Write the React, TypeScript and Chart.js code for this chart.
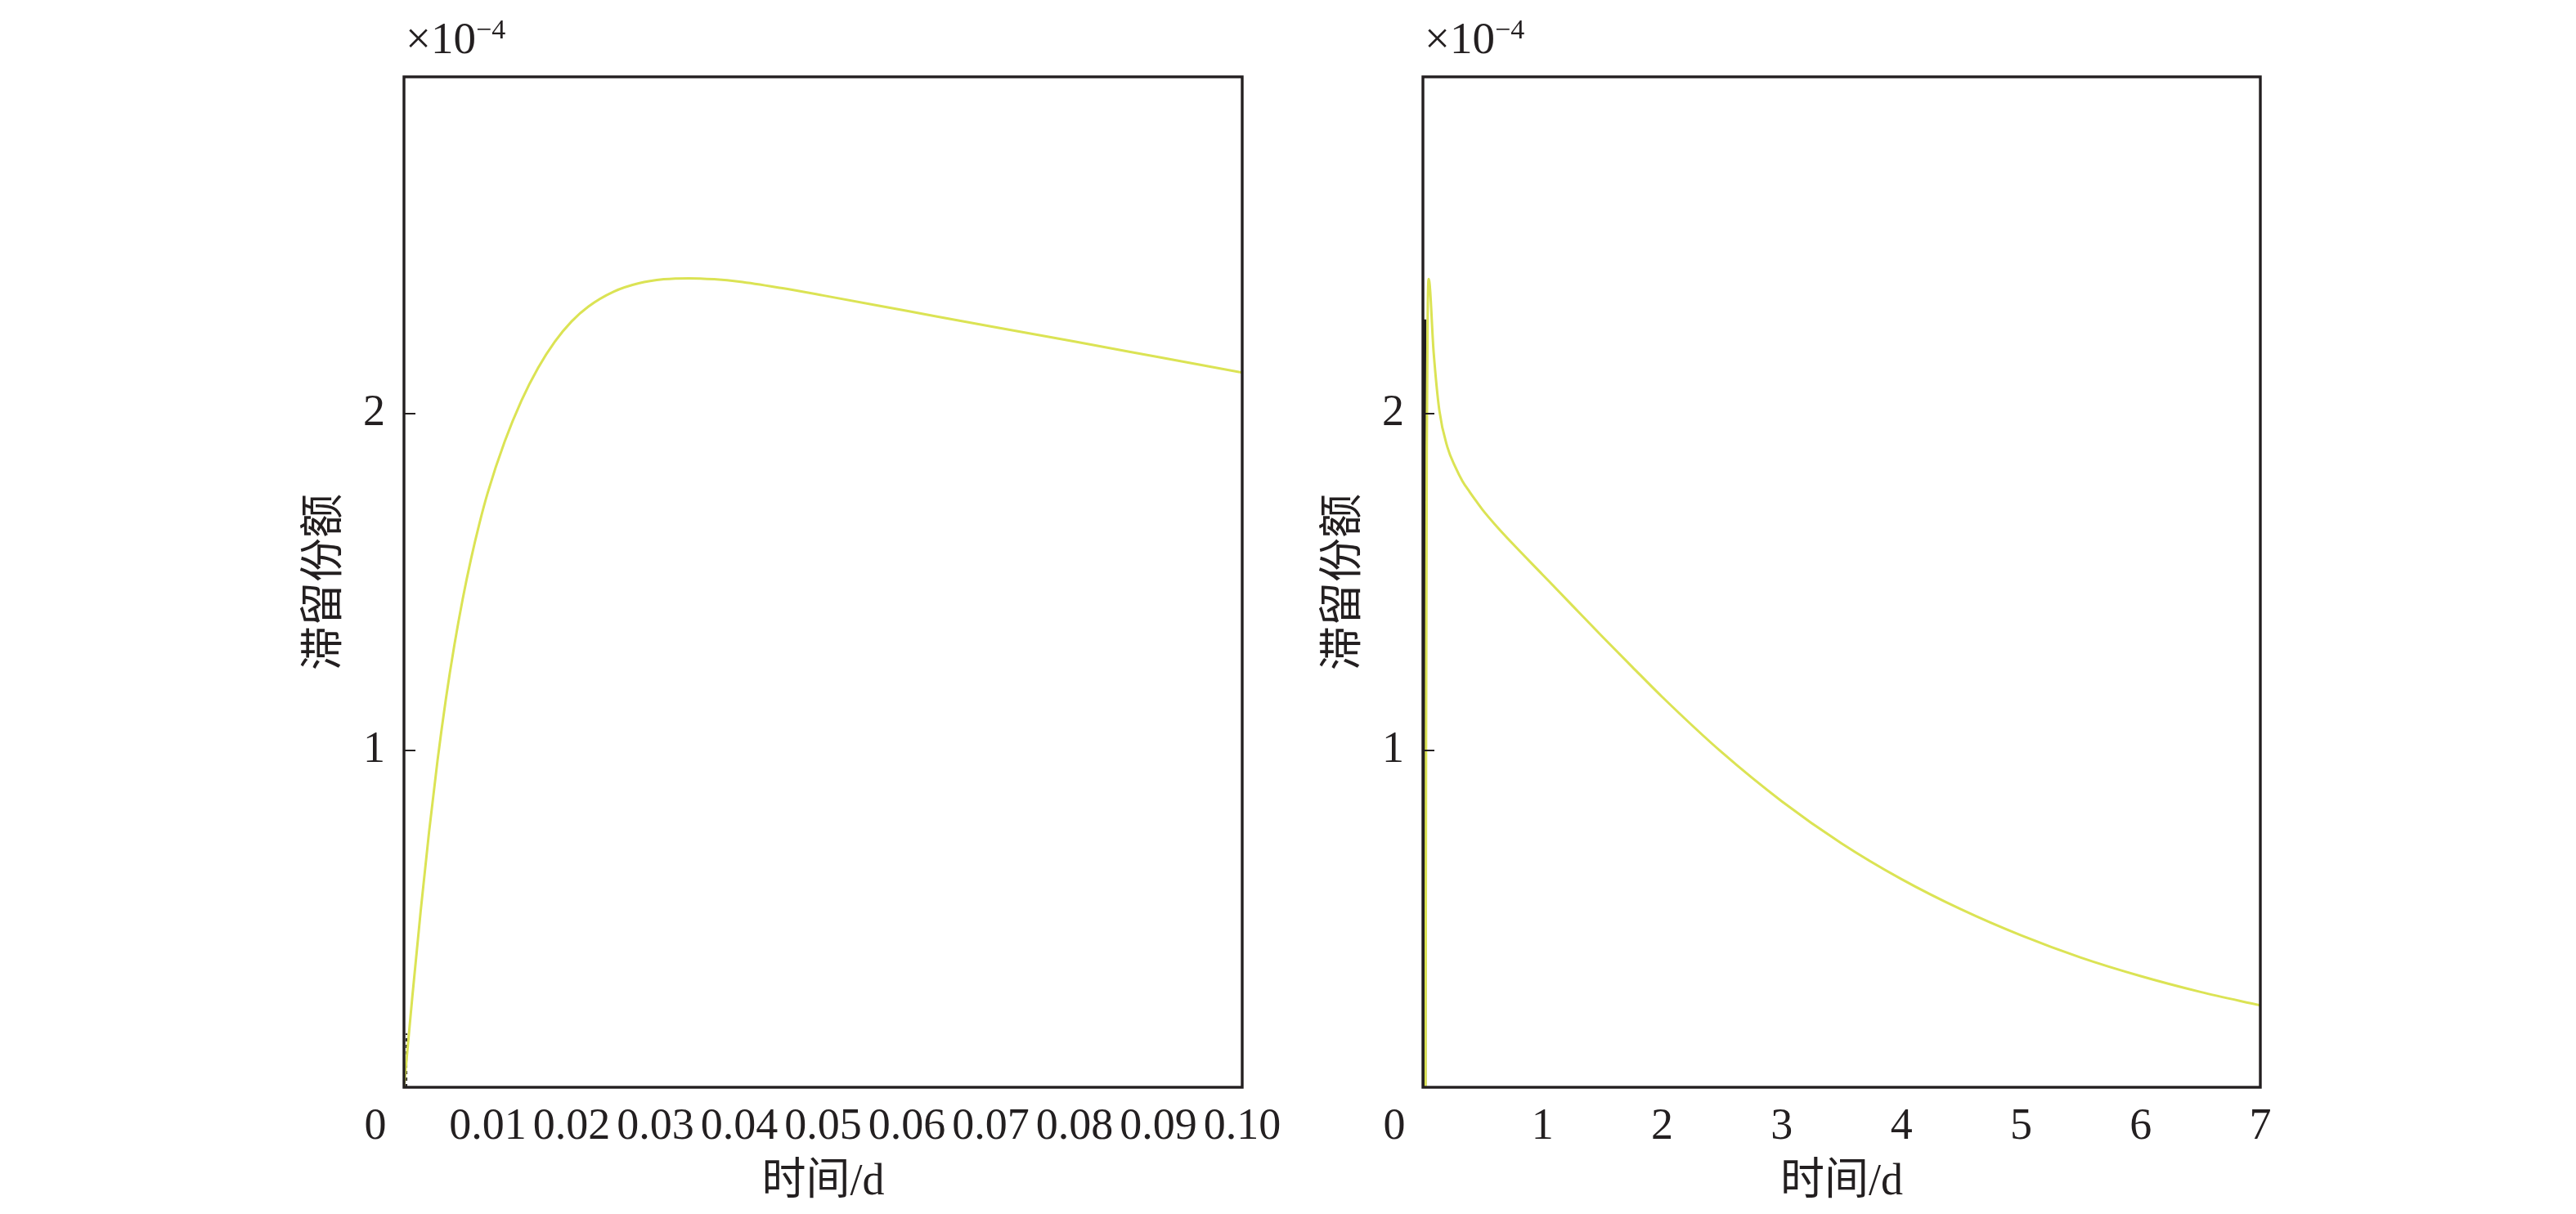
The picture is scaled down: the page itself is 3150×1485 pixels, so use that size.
import { useEffect, useRef } from "react";
import { Chart, registerables } from "chart.js";

Chart.register(...registerables);

// ---- data (time in days, retention share in units of 1e-4) ----
const leftTime = [0, 0.0003, 0.001, 0.002, 0.003, 0.004, 0.005, 0.006, 0.007, 0.008, 0.009, 0.01, 0.012, 0.014, 0.016, 0.018, 0.02, 0.022, 0.025, 0.028, 0.031, 0.034, 0.037, 0.04, 0.045, 0.05, 0.06, 0.07, 0.08, 0.09, 0.1];
const leftShare = [0, 0.08, 0.27, 0.525, 0.76, 0.97, 1.153, 1.311, 1.449, 1.569, 1.674, 1.766, 1.916, 2.038, 2.136, 2.214, 2.274, 2.318, 2.362, 2.387, 2.399, 2.402, 2.399, 2.392, 2.373, 2.351, 2.305, 2.259, 2.214, 2.168, 2.122];
const leftSpikeTime = [0.0003, 0.0003];
const leftSpikeShare = [0, 0.16];

const rightTime = [0.022, 0.026, 0.032, 0.04, 0.048, 0.09, 0.137, 0.205, 0.273, 0.33, 0.39, 0.45, 0.5, 0.6, 0.75, 1, 1.25, 1.5, 1.75, 2, 2.5, 3, 3.5, 4, 4.5, 5, 5.5, 6, 6.5, 7];
const rightShare = [0, 1.0, 1.9, 2.3, 2.4, 2.18, 2.01, 1.9, 1.84, 1.8, 1.768, 1.738, 1.714, 1.672, 1.614, 1.522, 1.43, 1.338, 1.248, 1.159, 0.994, 0.849, 0.724, 0.618, 0.528, 0.451, 0.385, 0.33, 0.283, 0.243];
const rightSpikeTime = [0.012, 0.012];
const rightSpikeShare = [0, 2.28];

const leftXTicks = [0, 0.01, 0.02, 0.03, 0.04, 0.05, 0.06, 0.07, 0.08, 0.09, 0.1];
const rightXTicks = [0, 1, 2, 3, 4, 5, 6, 7];
const yTicks = [0, 1, 2, 3];
const yLabelledTicks = [1, 2];
const originLabel = "0";
const xTitle = "时间/d";
const yTitle = "滞留份额";
const expBase = "×10";
const expPow = "−4";

const INK = "#231f20";
const CURVE = "rgb(219, 227, 84)";
const SERIF = '"Liberation Serif", "Times New Roman", "Noto Sans CJK SC", serif';

type Panel = {
  time: number[];
  share: number[];
  spikeTime: number[];
  spikeShare: number[];
  spikeWidth: number;
  spikeDash: number[];
  xMax: number;
  xTicks: number[];
  fmt: (v: number) => string;
  padLeft: number;
  padRight: number;
};

const decor = {
  id: "decor",
  afterDraw(chart: any) {
    const { ctx, chartArea: a } = chart;
    const ys = chart.scales.y;
    ctx.save();
    ctx.strokeStyle = INK;
    ctx.lineWidth = 3.4;
    ctx.strokeRect(a.left, a.top, a.right - a.left, a.bottom - a.top);
    ctx.lineWidth = 2;
    for (const v of yLabelledTicks) {
      const py = Math.round(ys.getPixelForValue(v));
      ctx.beginPath();
      ctx.moveTo(a.left, py);
      ctx.lineTo(a.left + 14, py);
      ctx.stroke();
    }
    ctx.fillStyle = INK;
    ctx.font = `54px ${SERIF}`;
    ctx.textAlign = "center";
    ctx.textBaseline = "middle";
    ctx.fillText(originLabel, a.left - 35, a.bottom + 16 + 32.4);
    ctx.fillText(xTitle, (a.left + a.right) / 2, a.bottom + 117);
    ctx.save();
    ctx.translate(a.left - 95, (a.top + a.bottom) / 2);
    ctx.rotate(-Math.PI / 2);
    ctx.fillText(yTitle, 0, 0);
    ctx.restore();
    ctx.textAlign = "left";
    ctx.textBaseline = "alphabetic";
    ctx.font = `55px ${SERIF}`;
    ctx.fillText(expBase, a.left + 2, a.top - 29);
    const w = ctx.measureText(expBase).width;
    ctx.font = `34px ${SERIF}`;
    ctx.fillText(expPow, a.left + 2 + w, a.top - 47);
    ctx.restore();
  },
};

function makeConfig(p: Panel): any {
  return {
    type: "line",
    data: {
      datasets: [
        {
          data: p.time.map((t, i) => ({ x: t, y: p.share[i] })),
          borderColor: CURVE,
          borderWidth: 3,
          pointRadius: 0,
          cubicInterpolationMode: "monotone",
          fill: false,
          order: 0,
        },
        {
          data: p.spikeTime.map((t, i) => ({ x: t, y: p.spikeShare[i] })),
          borderColor: INK,
          borderWidth: p.spikeWidth,
          borderDash: p.spikeDash,
          pointRadius: 0,
          fill: false,
          order: 1,
        },
      ],
    },
    options: {
      animation: false,
      responsive: false,
      devicePixelRatio: 1,
      layout: { padding: { left: p.padLeft, right: p.padRight, top: 94, bottom: 0 } },
      plugins: { legend: { display: false }, tooltip: { enabled: false } },
      scales: {
        x: {
          type: "linear",
          min: 0,
          max: p.xMax,
          grid: { display: false, drawTicks: false },
          border: { display: false },
          afterBuildTicks: (s: any) => {
            s.ticks = p.xTicks.map((v) => ({ value: v }));
          },
          afterFit: (s: any) => {
            s.height = 155;
          },
          ticks: {
            autoSkip: false,
            maxRotation: 0,
            minRotation: 0,
            padding: 16,
            color: INK,
            font: { family: SERIF, size: 54, lineHeight: 1.2 },
            callback: (v: number) => (v === 0 ? "" : p.fmt(v)),
          },
        },
        y: {
          type: "linear",
          min: 0,
          max: 3,
          grid: { display: false, drawTicks: false },
          border: { display: false },
          afterBuildTicks: (s: any) => {
            s.ticks = yTicks.map((v) => ({ value: v }));
          },
          afterFit: (s: any) => {
            s.width = 129;
          },
          ticks: {
            padding: 23,
            color: INK,
            font: { family: SERIF, size: 54, lineHeight: 1.2 },
            callback: (v: number) => (yLabelledTicks.includes(v) ? String(v) : ""),
          },
        },
      },
    },
    plugins: [decor],
  };
}

const panels: Panel[] = [
  {
    time: leftTime,
    share: leftShare,
    spikeTime: leftSpikeTime,
    spikeShare: leftSpikeShare,
    spikeWidth: 2,
    spikeDash: [4, 4],
    xMax: 0.1,
    xTicks: leftXTicks,
    fmt: (v) => v.toFixed(2),
    padLeft: 365,
    padRight: 1631,
  },
  {
    time: rightTime,
    share: rightShare,
    spikeTime: rightSpikeTime,
    spikeShare: rightSpikeShare,
    spikeWidth: 5,
    spikeDash: [],
    xMax: 7,
    xTicks: rightXTicks,
    fmt: (v) => String(v),
    padLeft: 1611,
    padRight: 386,
  },
];

function PanelCanvas({ panel }: { panel: Panel }) {
  const ref = useRef<HTMLCanvasElement | null>(null);
  useEffect(() => {
    if (!ref.current) return;
    const chart = new Chart(ref.current, makeConfig(panel));
    return () => chart.destroy();
  }, [panel]);
  return (
    <canvas
      ref={ref}
      width={3150}
      height={1485}
      style={{ position: "absolute", left: 0, top: 0, width: 3150, height: 1485 }}
    />
  );
}

export default function App() {
  return (
    <div style={{ position: "fixed", left: 0, top: 0, width: 3150, height: 1485, background: "#fff", overflow: "hidden" }}>
      {panels.map((p, i) => (
        <PanelCanvas key={i} panel={p} />
      ))}
    </div>
  );
}
